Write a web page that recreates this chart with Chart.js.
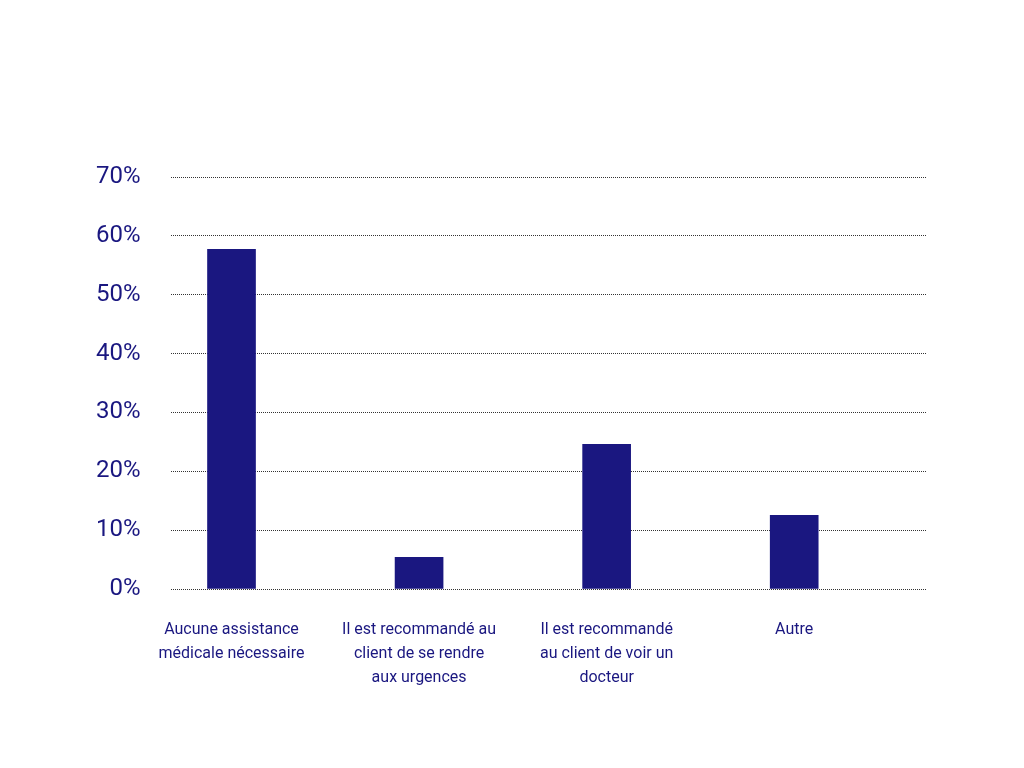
<!DOCTYPE html>
<html>
<head>
<meta charset="utf-8">
<script src="https://cdn.jsdelivr.net/npm/chart.js@4/dist/chart.umd.min.js"></script>
<style>
  html, body { margin: 0; padding: 0; background: #fff; }
  #wrap { width: 1024px; height: 768px; }
</style>
</head>
<body>
<div id="wrap"><canvas id="chart"></canvas></div>
<script>
const categories = [
  ['Aucune assistance', 'médicale nécessaire'],
  ['Il est recommandé au', 'client de se rendre', 'aux urgences'],
  ['Il est recommandé', 'au client de voir un', 'docteur'],
  ['Autre'],
];
const values = [57.7, 5.4, 24.6, 12.5];
const yTicks = [0, 10, 20, 30, 40, 50, 60, 70];

const navy = '#1a1780';

const ctx = document.getElementById('chart').getContext('2d');

new Chart(ctx, {
  type: 'bar',
  data: {
    datasets: [
      {
        data: values.map((v, i) => ({ x: i, y: v })),
        backgroundColor: navy,
        barThickness: 48,
      },
    ],
  },
  options: {
    responsive: true,
    maintainAspectRatio: false,
    animation: false,
    layout: {
      padding: { top: 177, right: 97, bottom: 57, left: 66 },
    },
    plugins: {
      legend: { display: false },
      tooltip: { enabled: false },
    },
    scales: {
      x: {
        type: 'linear',
        offset: false,
        min: -0.325,
        max: 3.708,
        afterBuildTicks: (scale) => {
          scale.ticks = categories.map((_, i) => ({ value: i }));
        },
        grid: { display: false },
        border: { display: false },
        ticks: {
          autoSkip: false,
          maxRotation: 0,
          padding: 21,
          color: navy,
          font: { family: 'Roboto', size: 16, lineHeight: 1.5 },
          callback: (value) => categories[value],
        },
      },
      y: {
        min: 0,
        max: 70,
        afterBuildTicks: (scale) => {
          scale.ticks = yTicks.map((v) => ({ value: v }));
        },
        grid: { color: '#333', lineWidth: 1, drawTicks: false },
        border: { display: false, dash: [1, 1] },
        ticks: {
          padding: 30,
          color: navy,
          font: { family: 'Roboto', size: 24 },
          callback: (value) => value + '%',
        },
      },
    },
  },
});
</script>
</body>
</html>
